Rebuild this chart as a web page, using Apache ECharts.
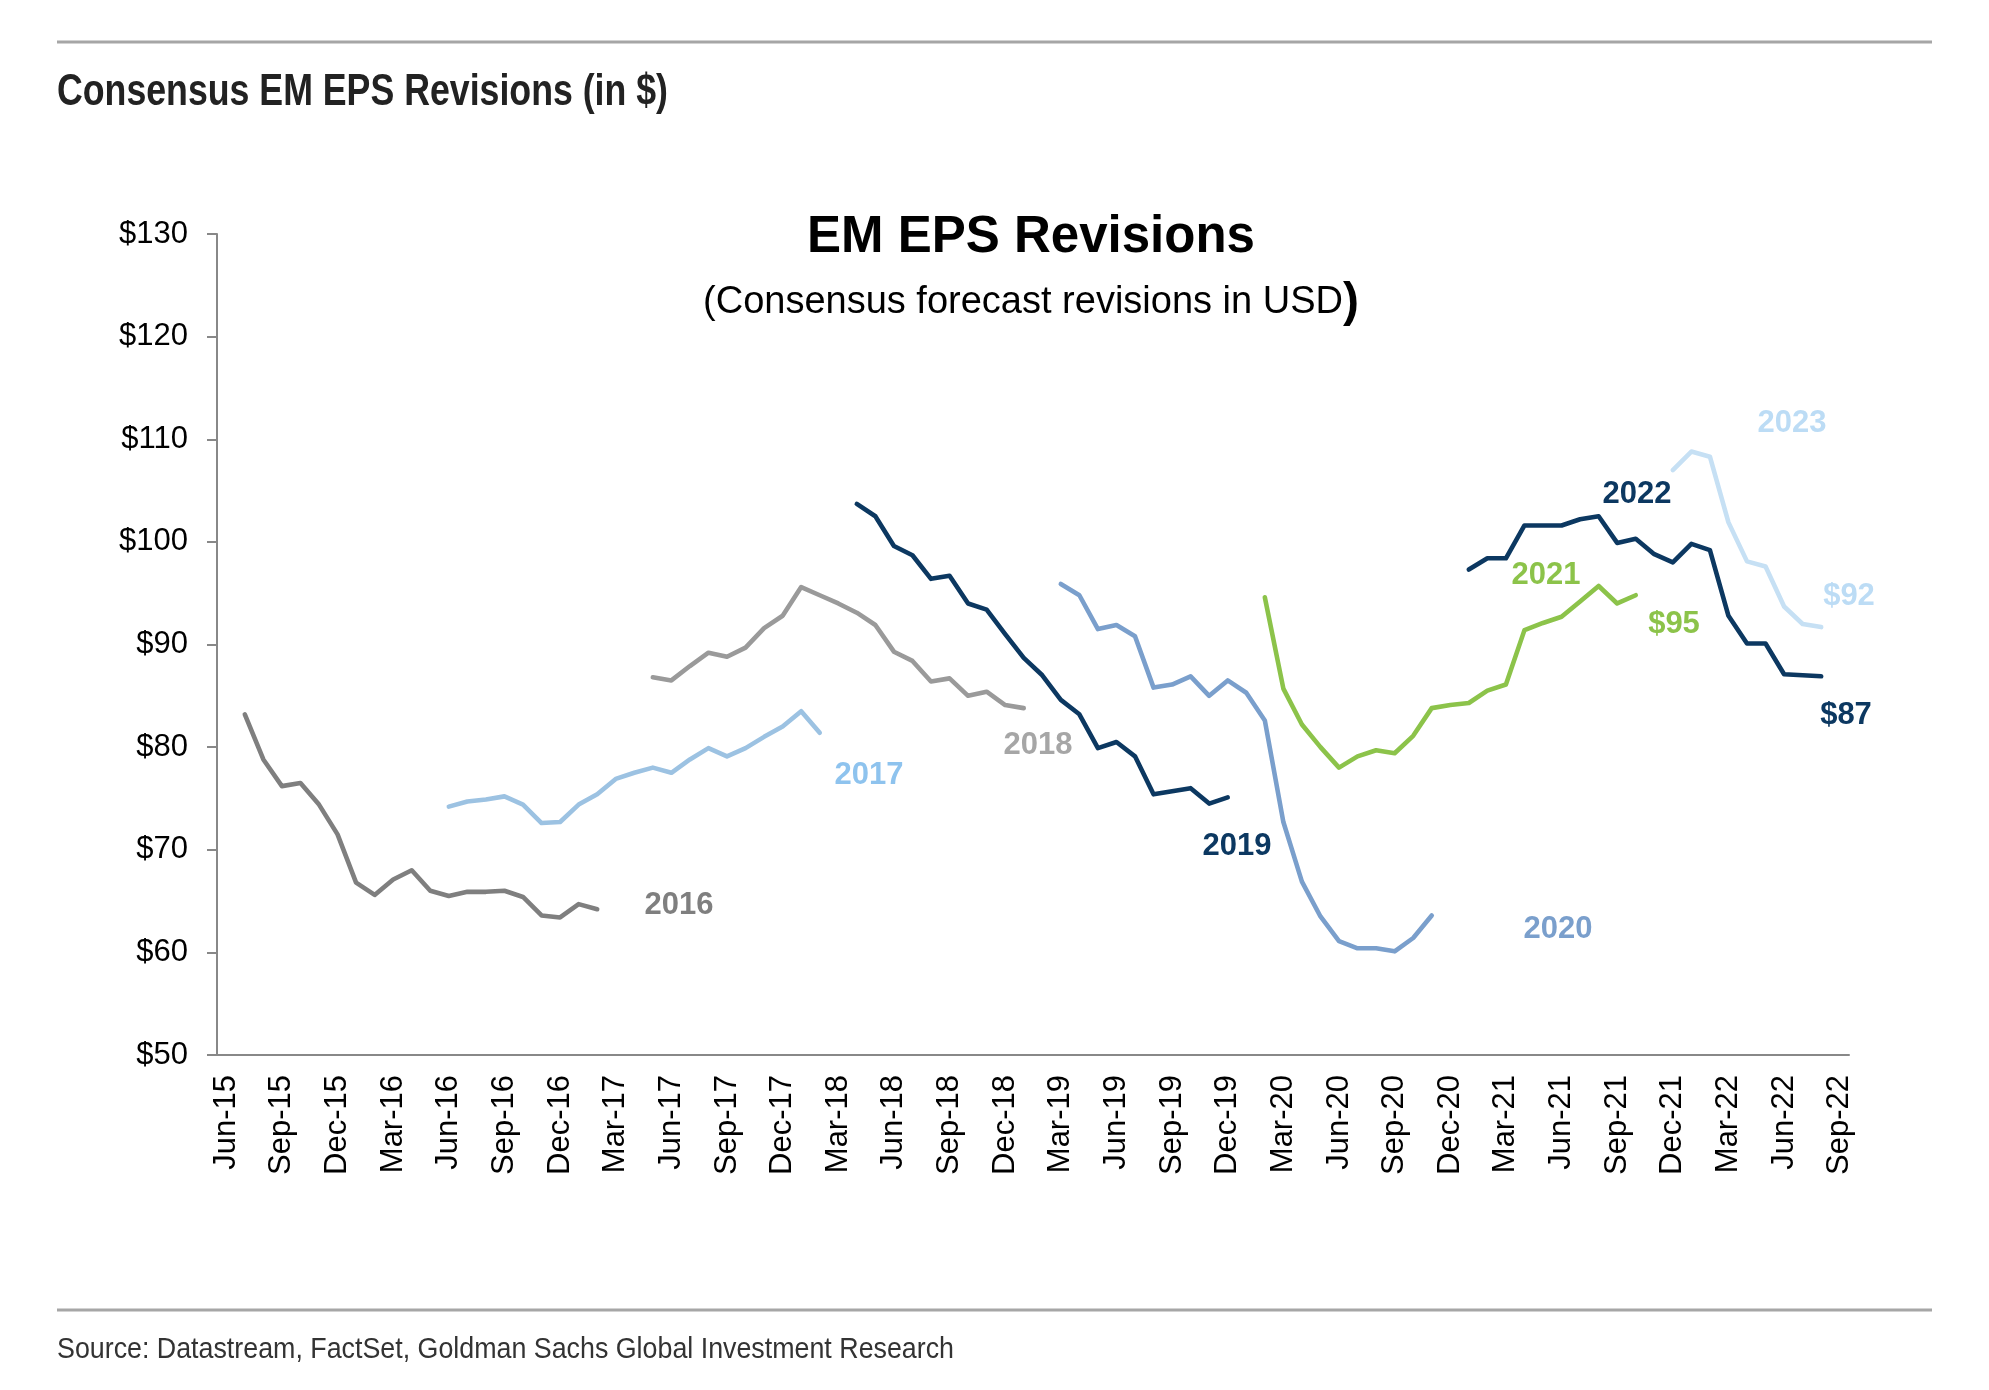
<!DOCTYPE html>
<html><head><meta charset="utf-8">
<script src="https://cdn.jsdelivr.net/npm/echarts@6/dist/echarts.min.js"></script>
<style>html,body{margin:0;padding:0;background:#fff}#c{width:1989px;height:1390px}</style>
</head><body><div id="c"></div>
<script>
// Monthly categories (x axis)
const months = [
 'Jun-15','Jul-15','Aug-15','Sep-15','Oct-15','Nov-15','Dec-15',
 'Jan-16','Feb-16','Mar-16','Apr-16','May-16','Jun-16','Jul-16','Aug-16','Sep-16','Oct-16','Nov-16','Dec-16',
 'Jan-17','Feb-17','Mar-17','Apr-17','May-17','Jun-17','Jul-17','Aug-17','Sep-17','Oct-17','Nov-17','Dec-17',
 'Jan-18','Feb-18','Mar-18','Apr-18','May-18','Jun-18','Jul-18','Aug-18','Sep-18','Oct-18','Nov-18','Dec-18',
 'Jan-19','Feb-19','Mar-19','Apr-19','May-19','Jun-19','Jul-19','Aug-19','Sep-19','Oct-19','Nov-19','Dec-19',
 'Jan-20','Feb-20','Mar-20','Apr-20','May-20','Jun-20','Jul-20','Aug-20','Sep-20','Oct-20','Nov-20','Dec-20',
 'Jan-21','Feb-21','Mar-21','Apr-21','May-21','Jun-21','Jul-21','Aug-21','Sep-21','Oct-21','Nov-21','Dec-21',
 'Jan-22','Feb-22','Mar-22','Apr-22','May-22','Jun-22','Jul-22','Aug-22','Sep-22'
];
const yMin = 50, yMax = 130, yStep = 10;

// Consensus EPS per calendar year, monthly (first month given by start*)
const start2016 = 'Jul-15';
const eps2016 = [83.2,78.8,76.2,76.5,74.4,71.5,66.8,65.6,67.1,68.0,66.0,65.5,65.9,65.9,66.0,65.4,63.6,63.4,64.7,64.2];
const start2017 = 'Jun-16';
const eps2017 = [74.2,74.7,74.9,75.2,74.4,72.6,72.7,74.4,75.4,76.9,77.5,78.0,77.5,78.8,79.9,79.1,79.9,81.0,82.0,83.5,81.4];
const start2018 = 'May-17';
const eps2018 = [86.8,86.5,87.9,89.2,88.8,89.7,91.6,92.8,95.6,94.8,94.0,93.1,91.9,89.3,88.4,86.4,86.7,85.0,85.4,84.1,83.8];
const start2019 = 'Apr-18';
const eps2019 = [103.7,102.5,99.6,98.7,96.4,96.7,94.0,93.4,91.0,88.7,87.0,84.6,83.2,79.9,80.5,79.1,75.4,75.7,76.0,74.5,75.1];
const start2020 = 'Mar-19';
const eps2020 = [95.9,94.8,91.5,91.9,90.8,85.8,86.1,86.9,85.0,86.5,85.3,82.6,72.7,66.9,63.5,61.1,60.4,60.4,60.1,61.4,63.6];
const start2021 = 'Feb-20';
const eps2021 = [94.6,85.7,82.2,80.0,78.0,79.1,79.7,79.4,81.1,83.8,84.1,84.3,85.5,86.1,91.4,92.1,92.7,94.2,95.7,94.0,94.8];
const start2022 = 'Jan-21';
const eps2022 = [97.3,98.4,98.4,101.6,101.6,101.6,102.2,102.5,99.9,100.3,98.8,98.0,99.8,99.2,92.8,90.1,90.1,87.1,87.0,86.9];
const start2023 = 'Dec-21';
const eps2023 = [107.0,108.8,108.3,101.9,98.1,97.6,93.7,92.0,91.7];

const seriesNames = ['2016','2017','2018','2019','2020','2021','2022','2023'];
const seriesStarts = [start2016,start2017,start2018,start2019,start2020,start2021,start2022,start2023];
const seriesValues = [eps2016,eps2017,eps2018,eps2019,eps2020,eps2021,eps2022,eps2023];
const seriesColors = ['#7f7f7f','#9cc2e2','#9a9a9a','#0c3861','#7a9fcc','#8cc34a','#0c3861','#c6e0f4'];

// Annotation texts (years and latest values)
const noteTexts = ['2016','2017','2018','2019','2020','2021','$95','2022','2023','$92','$87'];
const noteColors = ['#7f7f7f','#8ec3ee','#a6a6a6','#0c3861','#7a9fcc','#8cc34a','#8cc34a','#0c3861','#bcdcf5','#bcdcf5','#0c3861'];
const notePos = [[679,905],[869,775],[1038,745],[1237,846],[1558,929],[1546,575],[1674,624],[1637,494],[1792,423],[1849,596],[1846,715]];

const FF = '"Liberation Sans", Arial, sans-serif';
function fitScale(text, font, target){
  const ctx = document.createElement('canvas').getContext('2d');
  ctx.font = font;
  const w = ctx.measureText(text).width;
  return w > 0 ? target / w : 1;
}

const series = seriesNames.map((name, k) => {
  const s = months.indexOf(seriesStarts[k]);
  return {
    name, type: 'line', symbol: 'none', silent: true,
    lineStyle: { color: seriesColors[k], width: 4.6, cap: 'round', join: 'round' },
    data: seriesValues[k].map((v, j) => [months[s + j], v])
  };
});

const headerText = 'Consensus EM EPS Revisions (in $)';
const headerFont = 'bold 44px ' + FF;
const sourceText = 'Source: Datastream, FactSet, Goldman Sachs Global Investment Research';
const sourceFont = '29px ' + FF;

const graphic = [
  { type: 'line', shape: { x1: 57, y1: 42, x2: 1932, y2: 42 }, style: { stroke: '#a6a6a6', lineWidth: 3 } },
  { type: 'text', x: 57, y: 93, scaleX: fitScale(headerText, headerFont, 611), originX: 0,
    style: { text: headerText, font: headerFont, fill: '#222', align: 'left', verticalAlign: 'middle' } },
  { type: 'line', shape: { x1: 57, y1: 1310, x2: 1932, y2: 1310 }, style: { stroke: '#a6a6a6', lineWidth: 3 } },
  { type: 'text', x: 57, y: 1350, scaleX: fitScale(sourceText, sourceFont, 897), originX: 0,
    style: { text: sourceText, font: sourceFont, fill: '#333', align: 'left', verticalAlign: 'middle' } },
  { type: 'text', x: 1031, y: 238,
    style: { text: 'EM EPS Revisions', font: 'bold 51px ' + FF, fill: '#000', align: 'center', verticalAlign: 'middle' } },
  { type: 'text', x: 1031, y: 303,
    style: { text: '{a|(Consensus forecast revisions in USD}{b|)}', align: 'center', verticalAlign: 'middle',
      rich: { a: { fontSize: 38, fontFamily: FF, fill: '#000', color: '#000' },
              b: { fontSize: 48, fontWeight: 'bold', fontFamily: FF, fill: '#000', color: '#000' } } } }
].concat(noteTexts.map((t, k) => ({
  type: 'text', x: notePos[k][0], y: notePos[k][1],
  style: { text: t, font: 'bold 31px ' + FF, fill: noteColors[k], align: 'center', verticalAlign: 'middle' }
})));

const chart = echarts.init(document.getElementById('c'), null, { renderer: 'canvas' });
chart.setOption({
  backgroundColor: '#fff',
  animation: false,
  grid: { left: 217, right: 140, top: 234, bottom: 335, containLabel: false },
  xAxis: {
    type: 'category', data: months, boundaryGap: true,
    axisLine: { lineStyle: { color: '#888', width: 2 } },
    axisTick: { show: false },
    axisLabel: { interval: 2, rotate: 90, margin: 20, fontSize: 31, color: '#000', fontFamily: FF },
    splitLine: { show: false }
  },
  yAxis: {
    type: 'value', min: yMin, max: yMax, interval: yStep,
    axisLine: { show: true, lineStyle: { color: '#888', width: 2 } },
    axisTick: { show: true, length: 10, lineStyle: { color: '#888', width: 2 } },
    axisLabel: { margin: 29, fontSize: 31, color: '#000', fontFamily: FF, formatter: v => '$' + v },
    splitLine: { show: false }
  },
  series,
  graphic
});
</script></body></html>
